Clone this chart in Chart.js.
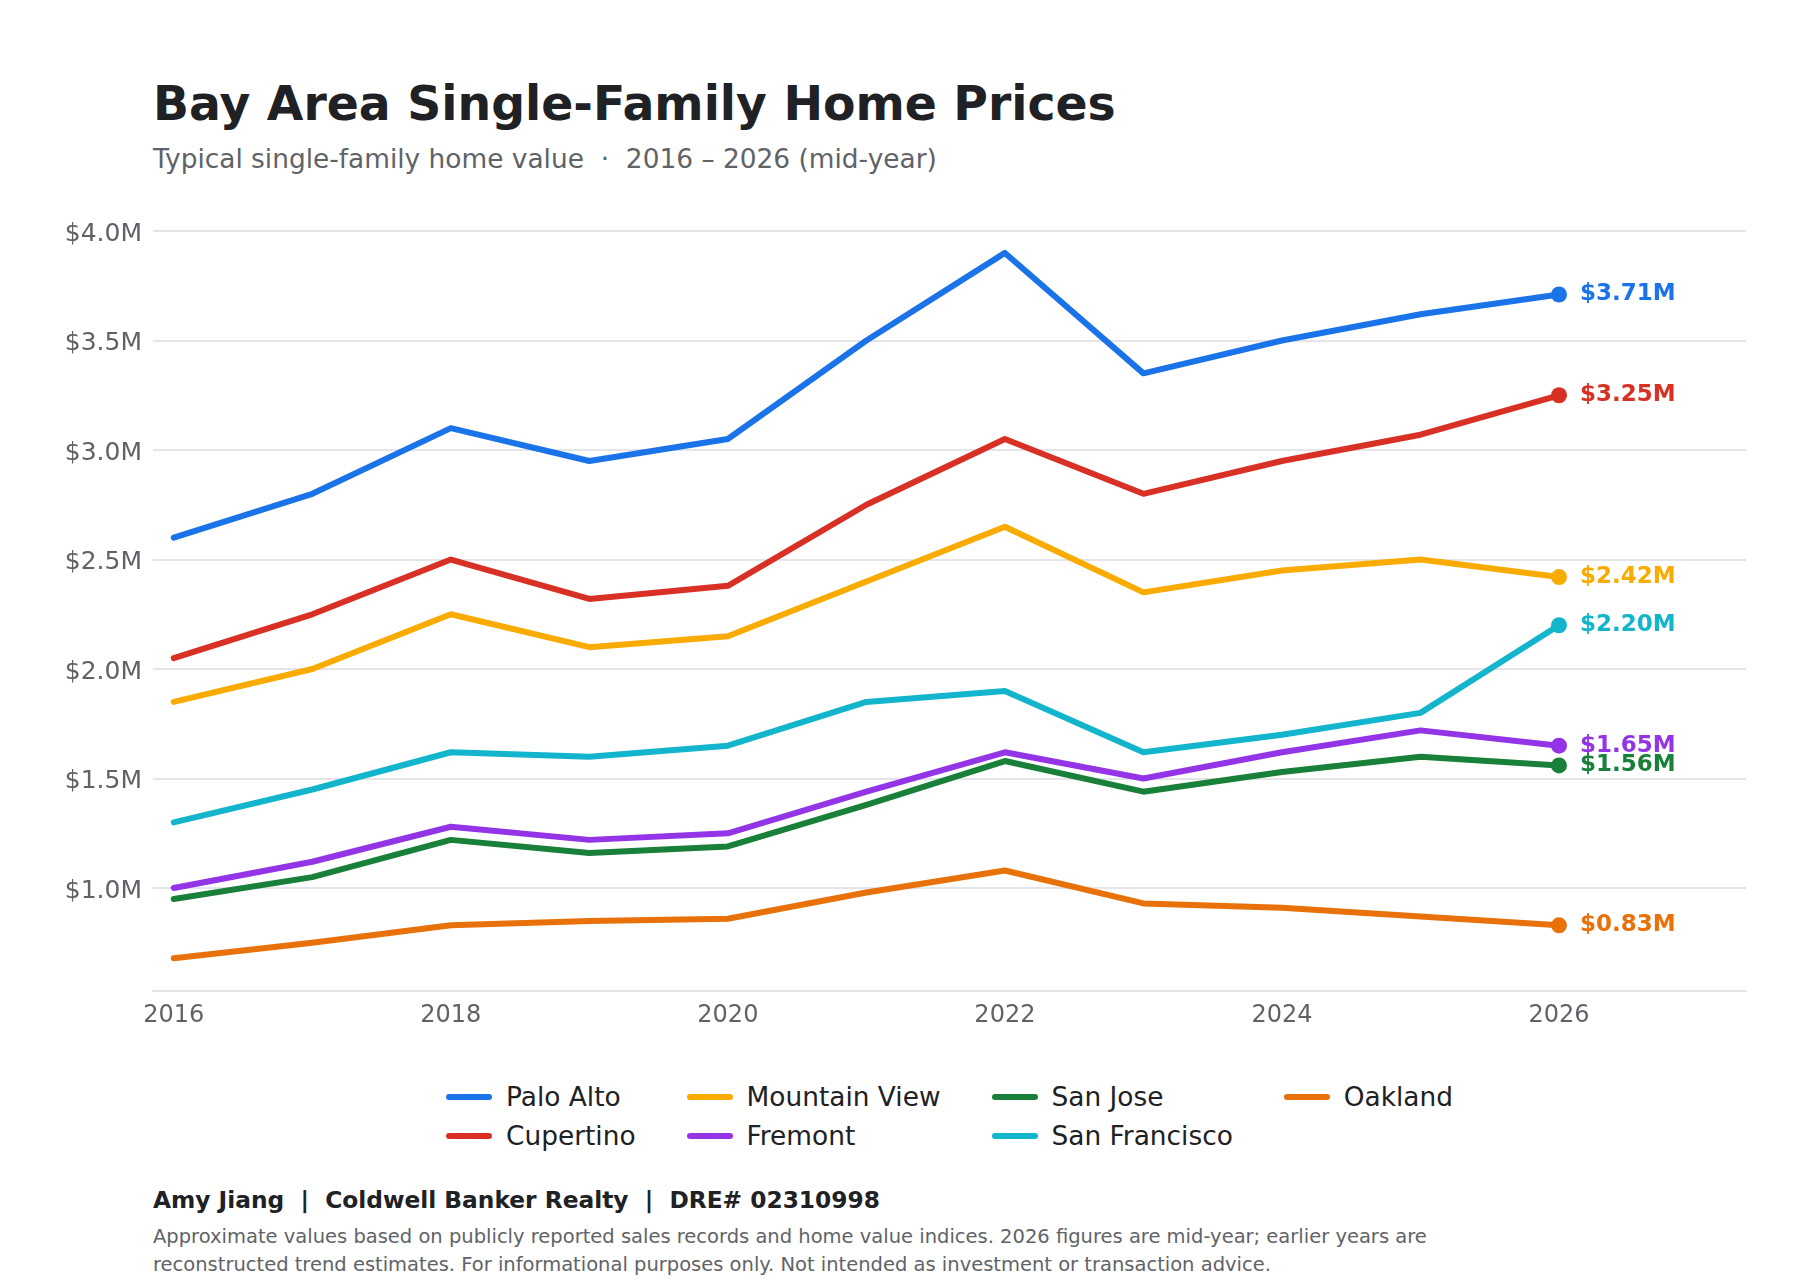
<!DOCTYPE html>
<html>
<head>
<meta charset="utf-8">
<script src="https://cdn.jsdelivr.net/npm/chart.js@4.4.1/dist/chart.umd.min.js"></script>
<style>
  html, body { margin:0; padding:0; background:#ffffff; }
  body { width:1800px; height:1280px; position:relative; overflow:hidden; font-family:"DejaVu Sans", sans-serif; }
  #title { position:absolute; left:153px; top:80px; font-size:47.3px; line-height:47px; font-weight:bold; color:#202124; white-space:nowrap; }
  #subtitle { position:absolute; left:153px; top:146px; font-size:26.4px; line-height:26px; color:#5f6368; white-space:pre; }
  #wrap { position:absolute; left:0; top:200px; width:1800px; height:840px; }
  #legend { position:absolute; top:1077px; left:153px; width:1593px; display:flex; justify-content:center; }
  #legend .grid { display:grid; grid-template-rows:39px 39px; grid-auto-flow:column; column-gap:51px; }
  #legend .item { display:flex; align-items:center; font-size:26.4px; color:#202124; white-space:nowrap; }
  #legend .sw { width:46px; height:6px; border-radius:3px; margin-right:14px; }
  #credit { position:absolute; left:153px; top:1188px; font-size:23.3px; line-height:23px; font-weight:bold; color:#202124; white-space:pre; }
  #note { position:absolute; left:153px; top:1223px; font-size:19.5px; line-height:27.5px; color:#5f6368; white-space:nowrap; }
</style>
</head>
<body>
<div id="title">Bay Area Single-Family Home Prices</div>
<div id="subtitle">Typical single-family home value  ·  2016 – 2026 (mid-year)</div>
<div id="wrap"><canvas id="c"></canvas></div>
<div id="legend"><div class="grid" id="lg"></div></div>
<div id="credit">Amy Jiang  |  Coldwell Banker Realty  |  DRE# 02310998</div>
<div id="note">Approximate values based on publicly reported sales records and home value indices. 2026 figures are mid-year; earlier years are<br>reconstructed trend estimates. For informational purposes only. Not intended as investment or transaction advice.</div>
<script>
// ---- data ----
const years = [2016, 2017, 2018, 2019, 2020, 2021, 2022, 2023, 2024, 2025, 2026];
const cities = ["Palo Alto", "Cupertino", "Mountain View", "Fremont", "San Jose", "San Francisco", "Oakland"];
const paloAlto     = [2.60, 2.80, 3.10, 2.95, 3.05, 3.50, 3.90, 3.35, 3.50, 3.62, 3.71];
const cupertino    = [2.05, 2.25, 2.50, 2.32, 2.38, 2.75, 3.05, 2.80, 2.95, 3.07, 3.25];
const mountainView = [1.85, 2.00, 2.25, 2.10, 2.15, 2.40, 2.65, 2.35, 2.45, 2.50, 2.42];
const fremont      = [1.00, 1.12, 1.28, 1.22, 1.25, 1.44, 1.62, 1.50, 1.62, 1.72, 1.65];
const sanJose      = [0.95, 1.05, 1.22, 1.16, 1.19, 1.38, 1.58, 1.44, 1.53, 1.60, 1.56];
const sanFrancisco = [1.30, 1.45, 1.62, 1.60, 1.65, 1.85, 1.90, 1.62, 1.70, 1.80, 2.20];
const oakland      = [0.68, 0.75, 0.83, 0.85, 0.86, 0.98, 1.08, 0.93, 0.91, 0.87, 0.83];
const seriesValues = [paloAlto, cupertino, mountainView, fremont, sanJose, sanFrancisco, oakland];
const colors = ["#1a73e8", "#d93025", "#f9ab00", "#9334e6", "#188038", "#12b5cb", "#e8710a"];
const legendOrder = ["Palo Alto", "Cupertino", "Mountain View", "Fremont", "San Jose", "San Francisco", "Oakland"];
const yTicks = [1.0, 1.5, 2.0, 2.5, 3.0, 3.5, 4.0];
const xTicks = [2016, 2018, 2020, 2022, 2024, 2026];

const FONT = "'DejaVu Sans', sans-serif";

const datasets = cities.map((name, i) => ({
  label: name,
  data: years.map((y, j) => ({ x: y, y: seriesValues[i][j] })),
  borderColor: colors[i],
  backgroundColor: colors[i],
  borderWidth: 6,
  tension: 0,
  borderCapStyle: 'round',
  borderJoinStyle: 'round',
  clip: false,
  pointRadius: ctx => ctx.dataIndex === years.length - 1 ? 8 : 0,
  pointHoverRadius: ctx => ctx.dataIndex === years.length - 1 ? 8 : 0,
  pointBorderWidth: 0
}));

const endLabels = {
  id: 'endLabels',
  afterDatasetsDraw(chart) {
    const ctx = chart.ctx;
    ctx.save();
    ctx.font = "bold 23px " + FONT;
    ctx.textBaseline = 'middle';
    ctx.textAlign = 'left';
    chart.data.datasets.forEach((ds, i) => {
      const meta = chart.getDatasetMeta(i);
      const pt = meta.data[meta.data.length - 1];
      const v = seriesValues[i][seriesValues[i].length - 1];
      ctx.fillStyle = colors[i];
      ctx.fillText('$' + v.toFixed(2) + 'M', pt.x + 21, pt.y);
    });
    ctx.restore();
  }
};

new Chart(document.getElementById('c'), {
  type: 'line',
  data: { datasets },
  options: {
    responsive: true,
    maintainAspectRatio: false,
    animation: false,
    events: [],
    layout: { padding: { left: 0, right: 54, top: 31, bottom: 0 } },
    plugins: { legend: { display: false }, tooltip: { enabled: false } },
    scales: {
      x: {
        type: 'linear',
        min: 2015.85,
        max: 2027.35,
        afterBuildTicks: axis => { axis.ticks = xTicks.map(v => ({ value: v })); },
        afterFit: axis => { axis.height = 49; },
        grid: { display: false, drawTicks: false },
        border: { display: true, color: '#e3e5e8', width: 2 },
        ticks: { color: '#5f6368', font: { family: FONT, size: 24 }, padding: 10, maxRotation: 0, callback: v => String(v) }
      },
      y: {
        min: 0.53,
        max: 4.0,
        afterBuildTicks: axis => { axis.ticks = yTicks.map(v => ({ value: v })); },
        afterFit: axis => { axis.width = 153; },
        grid: { color: '#e3e5e8', lineWidth: 2, drawTicks: false },
        border: { display: false },
        ticks: { color: '#5f6368', font: { family: FONT, size: 25 }, padding: 11, labelOffset: 3, callback: v => '$' + Number(v).toFixed(1) + 'M' }
      }
    }
  },
  plugins: [endLabels]
});

// legend (column-major, 2 rows)
const lg = document.getElementById('lg');
legendOrder.forEach(name => {
  const i = cities.indexOf(name);
  const it = document.createElement('div');
  it.className = 'item';
  const sw = document.createElement('span');
  sw.className = 'sw';
  sw.style.background = colors[i];
  const tx = document.createElement('span');
  tx.textContent = name;
  it.appendChild(sw); it.appendChild(tx);
  lg.appendChild(it);
});
</script>
</body>
</html>
